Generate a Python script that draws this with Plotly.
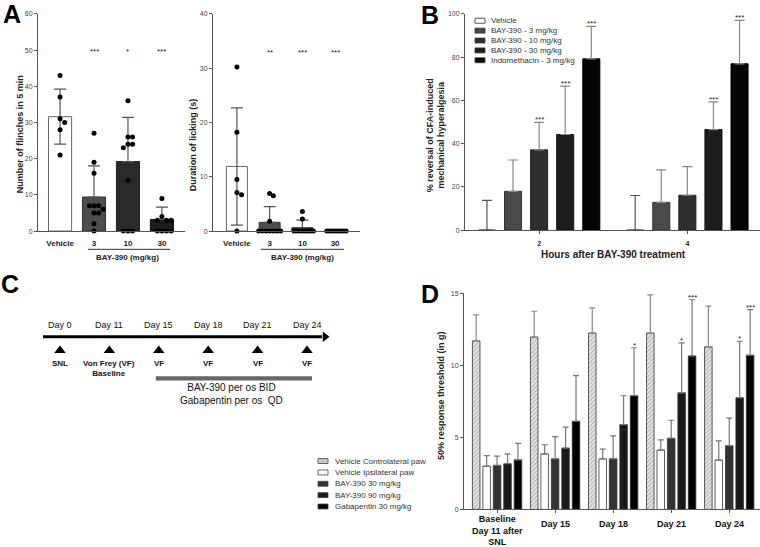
import plotly.graph_objects as go

W, H = 760, 547
FONT = "Arial, 'Liberation Sans', Helvetica, sans-serif"

# ---------------- data ----------------
# Panel A (left): number of flinches in 5 min
a_categories = ["Vehicle", "3", "10", "30"]
a_flinch_mean = [31.6, 9.4, 19.2, 3.2]
a_flinch_sd = [7.6, 8.6, 12.2, 3.4]
a_flinch_vehicle = [43, 37, 31, 30, 28, 21]
a_flinch_3 = [27, 19, 16, 7, 7, 7, 6, 5, 5, 2, 0]
a_flinch_10 = [36, 26, 26, 24, 24, 23, 14, 0, 0, 0]
a_flinch_30 = [9, 4, 3, 3, 3, 0, 0, 0, 0]
a_flinch_sig = ["", "***", "*", "***"]

# Panel A (right): duration of licking (s)
a_lick_mean = [11.9, 1.6, 0.6, 0.0]
a_lick_sd = [10.8, 2.9, 1.4, 0.0]
a_lick_vehicle = [30.2, 18.2, 9.5, 7.1, 6.7, 0]
a_lick_3 = [6.9, 6.5, 1.8, 0, 0, 0, 0, 0, 0, 0]
a_lick_10 = [3.6, 2.2, 0, 0, 0, 0, 0, 0, 0, 0]
a_lick_30 = [0, 0, 0, 0, 0, 0, 0, 0]
a_lick_sig = ["", "**", "***", "***"]

# Panel B: % reversal of CFA-induced mechanical hyperalgesia
b_hours = ["2", "4"]
b_series = ["Vehicle", "BAY-390 - 3 mg/kg", "BAY-390 - 10 mg/kg",
            "BAY-390 - 30 mg/kg", "Indomethacin - 3 mg/kg"]
b_vehicle = [0.0, 0.0]
b_vehicle_sd = [13.7, 16.0]
b_bay3 = [17.9, 12.8]
b_bay3_sd = [14.5, 15.0]
b_bay10 = [37.1, 16.1]
b_bay10_sd = [12.7, 13.2]
b_bay30 = [44.2, 46.5]
b_bay30_sd = [22.4, 12.8]
b_indo = [79.2, 76.9]
b_indo_sd = [15.0, 20.1]
b_vehicle_sig = ["", ""]
b_bay3_sig = ["", ""]
b_bay10_sig = ["***", ""]
b_bay30_sig = ["***", "***"]
b_indo_sig = ["***", "***"]

# Panel C: study timeline
c_days = ["Day 0", "Day 11", "Day 15", "Day 18", "Day 21", "Day 24"]
c_events = ["SNL", "Von Frey (VF)<br>Baseline", "VF", "VF", "VF", "VF"]
c_treatment = "BAY-390 per os BID<br>Gabapentin per os  QD"

# Panel D: 50% response threshold (in g)
d_days = ["Baseline<br>Day 11 after<br>SNL", "Day 15", "Day 18", "Day 21", "Day 24"]
d_series = ["Vehicle Controlateral paw", "Vehicle Ipsilateral paw",
            "BAY-390 30 mg/kg", "BAY-390 90 mg/kg", "Gabapentin 30 mg/kg"]
d_contra = [11.70, 11.96, 12.24, 12.24, 11.28]
d_contra_sd = [1.80, 1.79, 1.74, 2.65, 2.82]
d_ipsi = [3.00, 3.85, 3.51, 4.12, 3.42]
d_ipsi_sd = [0.74, 0.64, 0.68, 0.71, 1.34]
d_bay30 = [3.06, 3.51, 3.51, 4.94, 4.42]
d_bay30_sd = [0.64, 1.54, 1.59, 1.25, 1.92]
d_bay90 = [3.17, 4.26, 5.89, 8.09, 7.75]
d_bay90_sd = [0.68, 1.45, 2.00, 3.47, 3.92]
d_gaba = [3.44, 6.12, 7.89, 10.65, 10.70]
d_gaba_sd = [1.14, 3.17, 3.33, 3.90, 3.17]
d_contra_sig = ["", "", "", "", ""]
d_ipsi_sig = ["", "", "", "", ""]
d_bay30_sig = ["", "", "", "", ""]
d_bay90_sig = ["", "", "", "*", "*"]
d_gaba_sig = ["", "", "*", "***", "***"]

# ---------------- helpers ----------------
def dom_x(x0, x1):
    return [x0 / W, x1 / W]


def dom_y(ytop, ybot):
    return [1 - ybot / H, 1 - ytop / H]


def swarm(vals, ypx, step=4.6, dmin=4.4, maxhalf=11.0):
    """deterministic beeswarm offsets (in px) for overlapping dots"""
    order = sorted(range(len(vals)), key=lambda i: -vals[i])
    placed, offs = [], [0.0] * len(vals)
    cands = [0] + [s * m for m in range(1, 30) for s in (1, -1)]
    for i in order:
        y = vals[i] * ypx
        for c in cands:
            x = c * step
            if all((x - px) ** 2 + (y - py) ** 2 >= dmin ** 2 for px, py in placed):
                break
        placed.append((x, y))
        offs[i] = x
    big = max(abs(o) for o in offs) if offs else 0
    if big > maxhalf:
        offs = [o * maxhalf / big for o in offs]
    return offs


AXC = "#555"
TICKF = dict(size=7, color="#444", family=FONT)


def yaxis(domain, rng, dtick, anchor):
    return dict(domain=domain, range=rng, dtick=dtick, anchor=anchor,
                showline=True, linecolor=AXC, linewidth=1, ticks="outside",
                ticklen=3, tickcolor=AXC, tickwidth=1, tickfont=TICKF,
                showgrid=False, zeroline=False, fixedrange=True)


def xaxis(domain, rng, anchor, tickvals, ticktext, ticks="", size=8):
    return dict(domain=domain, range=rng, anchor=anchor, showline=True,
                linecolor=AXC, linewidth=1, ticks=ticks, ticklen=3,
                tickcolor=AXC, tickvals=tickvals, ticktext=ticktext,
                tickfont=dict(size=size, color="#222", family=FONT),
                ticklabelstandoff=4, showgrid=False, zeroline=False,
                fixedrange=True)


fig = go.Figure()
annotations = []
shapes = []


def ann(x, y, text, size=9, xref="paper", yref="paper", bold=False, angle=0,
        xanchor="center", yanchor="middle", color="#222", **kw):
    annotations.append(dict(x=x, y=y, xref=xref, yref=yref,
                            text=f"<b>{text}</b>" if bold else text,
                            textangle=angle, showarrow=False, xanchor=xanchor,
                            yanchor=yanchor,
                            font=dict(size=size, color=color, family=FONT), **kw))


def pax(x):
    return x / W


def pay(y):
    return 1 - y / H


# ---------------- Panel A ----------------
a_colors = ["#ffffff", "#4d4d4d", "#2a2a2a", "#1c1c1c"]
a_lines = ["#666666", "#333333", "#222222", "#111111"]

panelA = [
    ("x", "y", a_flinch_mean, a_flinch_sd,
     [a_flinch_vehicle, a_flinch_3, a_flinch_10, a_flinch_30], a_flinch_sig,
     0.68, 34.0, 220 / 60, 49.5),
    ("x2", "y2", a_lick_mean, a_lick_sd,
     [a_lick_vehicle, a_lick_3, a_lick_10, a_lick_30], a_lick_sig,
     0.64, 32.7, 220 / 40, 32.8),
]
for xr, yr, mean, sd, pts, sig, bw, xpx, ypx, sigy in panelA:
    idx = list(range(len(a_categories)))
    fig.add_trace(go.Bar(
        x=idx, y=mean, width=bw, xaxis=xr, yaxis=yr,
        marker=dict(color=a_colors, line=dict(color=a_lines, width=1)),
        error_y=dict(type="data", array=sd,
                     arrayminus=[sd[0]] + [0] * (len(sd) - 1),
                     color="#555", thickness=1.2, width=6),
        showlegend=False))
    xs, ys = [], []
    for i, vals in enumerate(pts):
        offs = swarm(vals, ypx)
        xs += [i + o / xpx for o in offs]
        ys += vals
    fig.add_trace(go.Scatter(x=xs, y=ys, mode="markers", xaxis=xr, yaxis=yr,
                             marker=dict(size=5, color="#000"),
                             showlegend=False, cliponaxis=False))
    for i, s in enumerate(sig):
        if s:
            ann(i, sigy, s, size=8, xref=xr, yref=yr, color="#222")

# underline + group label for BAY-390 (mg/kg)
for xr, x0, x1 in [("x", 0.82, 3.24), ("x2", 0.73, 3.27)]:
    shapes.append(dict(type="line", xref=xr, yref="paper", x0=x0, x1=x1,
                       y0=pay(248.5), y1=pay(248.5),
                       line=dict(color="#333", width=1)))
    ann(2, pay(257), "BAY-390 (mg/kg)", size=8, xref=xr, bold=True)

ann(pax(20), pay(132), "Number of flinches in 5 min", size=9, bold=True, angle=-90)
ann(pax(193), pay(143), "Duration of licking (s)", size=9, bold=True, angle=-90)

# ---------------- Panel B ----------------
b_vals = [b_vehicle, b_bay3, b_bay10, b_bay30, b_indo]
b_sds = [b_vehicle_sd, b_bay3_sd, b_bay10_sd, b_bay30_sd, b_indo_sd]
b_sigs = [b_vehicle_sig, b_bay3_sig, b_bay10_sig, b_bay30_sig, b_indo_sig]
b_colors = ["#ffffff", "#4a4a4a", "#2e2e2e", "#1c1c1c", "#050505"]
b_lines = ["#555555", "#333333", "#222222", "#111111", "#000000"]
b_err_col = ["#555", "#888", "#888", "#888", "#888"]
b_step, b_w = 0.176, 0.115
for k, name in enumerate(b_series):
    xs = [i + (k - 2) * b_step for i in range(len(b_hours))]
    fig.add_trace(go.Bar(
        x=xs, y=b_vals[k], width=b_w, xaxis="x3", yaxis="y3", name=name,
        marker=dict(color=b_colors[k], line=dict(color=b_lines[k], width=1)),
        error_y=dict(type="data", array=b_sds[k], arrayminus=[0] * len(b_sds[k]),
                     color=b_err_col[k], thickness=1.2, width=5),
        showlegend=False))
    for i, s in enumerate(b_sigs[k]):
        if s:
            ann(xs[i], b_vals[k][i] + b_sds[k][i], s, size=8, xref="x3", yref="y3",
                yanchor="bottom", yshift=-4)

# B legend
for k, name in enumerate(b_series):
    yc = 17 + 10 * k
    shapes.append(dict(type="rect", xref="paper", yref="paper",
                       x0=pax(475), x1=pax(485), y0=pay(yc - 2.5), y1=pay(yc + 2.5),
                       fillcolor=b_colors[k], line=dict(color="#333", width=0.8)))
    ann(pax(489), pay(yc), name, size=8, xanchor="left", color="#333")

ann(pax(436), pay(133), "% reversal of CFA-induced<br>mechanical hyperalgesia",
    size=9, bold=True, angle=-90)
ann(pax(613), pay(254), "Hours after BAY-390 treatment", size=10, bold=True)

# ---------------- Panel C (timeline) ----------------
c_x0, c_dx = 60, 49.4
c_pos = [c_x0 + c_dx * i for i in range(len(c_days))]
shapes.append(dict(type="line", xref="x5", yref="y5", x0=43, x1=322, y0=337, y1=337,
                   line=dict(color="#000", width=3)))
fig.add_trace(go.Scatter(x=[325], y=[337], xaxis="x5", yaxis="y5", mode="markers",
                         marker=dict(symbol="triangle-right", size=9, color="#000"),
                         showlegend=False, cliponaxis=False))
fig.add_trace(go.Scatter(x=c_pos, y=[351] * len(c_pos), xaxis="x5", yaxis="y5",
                         mode="markers",
                         marker=dict(symbol="triangle-up", size=10, color="#000"),
                         showlegend=False, cliponaxis=False))
for i, d in enumerate(c_days):
    ann(c_pos[i], 325, d, size=9, xref="x5", yref="y5", color="#111")
    ann(c_pos[i], 363, c_events[i], size=8, xref="x5", yref="y5", bold=True,
        yanchor="top", yshift=5, color="#111")
shapes.append(dict(type="rect", xref="x5", yref="y5", x0=c_pos[2] - 3, x1=c_pos[5] + 5,
                   y0=377, y1=381.5, fillcolor="#666", line=dict(width=0)))
ann(231, 395, c_treatment, size=10, xref="x5", yref="y5", color="#111")

# ---------------- Panel D ----------------
d_vals = [d_contra, d_ipsi, d_bay30, d_bay90, d_gaba]
d_sds = [d_contra_sd, d_ipsi_sd, d_bay30_sd, d_bay90_sd, d_gaba_sd]
d_sigs = [d_contra_sig, d_ipsi_sig, d_bay30_sig, d_bay90_sig, d_gaba_sig]
d_colors = ["#e4e4e4", "#ffffff", "#333333", "#1a1a1a", "#000000"]
d_err_col = ["#888", "#777", "#777", "#777", "#777"]
d_step, d_w = 0.18, 0.13
for k, name in enumerate(d_series):
    xs = [i + (k - 2) * d_step for i in range(len(d_days))]
    mk = dict(color=d_colors[k], line=dict(color="#333", width=0.8))
    if k == 0:
        mk["pattern"] = dict(shape="/", fgcolor="#666", bgcolor="#e6e6e6",
                             size=3, solidity=0.3)
    fig.add_trace(go.Bar(
        x=xs, y=d_vals[k], width=d_w, xaxis="x4", yaxis="y4", name=name, marker=mk,
        error_y=dict(type="data", array=d_sds[k], arrayminus=[0] * len(d_sds[k]),
                     color=d_err_col[k], thickness=1.2, width=3),
        showlegend=False))
    for i, s in enumerate(d_sigs[k]):
        if s:
            ann(xs[i], d_vals[k][i] + d_sds[k][i], s, size=8, xref="x4", yref="y4",
                yanchor="bottom", yshift=-4)

for i, lab in enumerate(d_days):
    ann(i, pay(533) if i == 0 else pay(527), lab, size=9, xref="x4", bold=True,
        color="#111")

# D legend
for k, name in enumerate(d_series):
    yc = 463 + 11.5 * k
    shapes.append(dict(type="rect", xref="paper", yref="paper",
                       x0=pax(318), x1=pax(328), y0=pay(yc - 2.5), y1=pay(yc + 2.5),
                       fillcolor="#c8c8c8" if k == 0 else d_colors[k],
                       line=dict(color="#444", width=0.8)))
    ann(pax(333), pay(yc), name, size=8, xanchor="left", color="#333")

ann(pax(441), pay(397), "50% response threshold (in g)", size=9, bold=True, angle=-90)

# ---------------- panel letters ----------------
for lab, x, y in [("A", 12, 10), ("B", 430, 11), ("C", 10, 284), ("D", 430, 294)]:
    ann(pax(x), pay(y), lab, size=25, bold=True, color="#000")

# ---------------- layout ----------------
fig.update_layout(
    width=W, height=H, margin=dict(l=0, r=0, t=0, b=0),
    paper_bgcolor="white", plot_bgcolor="rgba(0,0,0,0)",
    font=dict(family=FONT, color="#222"), barmode="overlay",
    showlegend=False, annotations=annotations, shapes=shapes,
    xaxis=xaxis(dom_x(38, 185), [-0.65, 3.68], "y", list(range(4)),
                [f"<b>{c}</b>" for c in a_categories]),
    yaxis=yaxis(dom_y(10, 230), [0, 60], 10, "x"),
    xaxis2=xaxis(dom_x(213, 360), [-0.73, 3.76], "y2", list(range(4)),
                 [f"<b>{c}</b>" for c in a_categories]),
    yaxis2=yaxis(dom_y(10, 230), [0, 40], 10, "x2"),
    xaxis3=xaxis(dom_x(465, 760), [-0.5, 1.49], "y3", list(range(2)),
                 [f"<b>{h}</b>" for h in b_hours], ticks="outside", size=7),
    yaxis3=yaxis(dom_y(10, 229), [0, 100], 20, "x3"),
    xaxis4=xaxis(dom_x(464, 760), [-0.57, 4.53], "y4", list(range(5)),
                 ["" for _ in d_days], ticks="outside"),
    yaxis4=yaxis(dom_y(293, 512), [0, 15], 5, "x4"),
    xaxis5=dict(domain=[0, 1], range=[0, W], anchor="y5", visible=False,
                fixedrange=True),
    yaxis5=dict(domain=[0, 1], range=[H, 0], anchor="x5", visible=False,
                fixedrange=True),
    hovermode=False,
)

fig.write_html("out.html",
               config={"displayModeBar": False, "staticPlot": True},
               post_script="document.body.style.margin='0px';"
                           "document.body.style.overflow='hidden';")
